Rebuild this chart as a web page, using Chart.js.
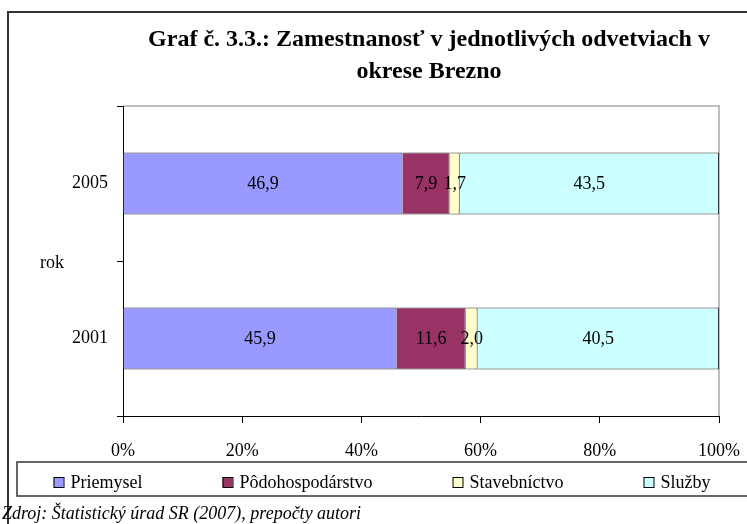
<!DOCTYPE html>
<html>
<head>
<meta charset="utf-8">
<script src="https://cdn.jsdelivr.net/npm/chart.js@4/dist/chart.umd.min.js"></script>
<style>
  html, body { margin: 0; padding: 0; background: #fff; }
  canvas { display: block; }
</style>
</head>
<body>
<canvas id="chart" width="747" height="524"></canvas>
<script>
const years = ['2005', '2001'];
const seriesNames = ['Priemysel', 'Pôdohospodárstvo', 'Stavebníctvo', 'Služby'];
const priemysel = [46.9, 45.9];
const podohospodarstvo = [7.9, 11.6];
const stavebnictvo = [1.7, 2.0];
const sluzby = [43.5, 40.5];
const titleLines = ['Graf č. 3.3.: Zamestnanosť v jednotlivých odvetviach v', 'okrese Brezno'];
const axisName = 'rok';
const sourceNote = 'Zdroj: Štatistický úrad SR (2007), prepočty autori';

const serif = '"Liberation Serif", "Times New Roman", serif';
const colors = ['#9999ff', '#993366', '#ffffcc', '#ccffff'];

const decor = {
    id: 'decor',
    beforeDraw(chart) {
        const ctx = chart.ctx;
        const a = chart.chartArea;
        ctx.save();
        ctx.fillStyle = '#fff';
        ctx.fillRect(0, 0, chart.width, chart.height);
        // outer frame (right and bottom sides run off the picture)
        ctx.strokeStyle = '#333';
        ctx.lineWidth = 2;
        ctx.strokeRect(8, 12, chart.width + 20, chart.height + 20);
        // plot area top / right edge
        ctx.strokeStyle = '#aaa';
        ctx.lineWidth = 1.5;
        ctx.beginPath();
        ctx.moveTo(a.left, a.top);
        ctx.lineTo(a.right, a.top);
        ctx.lineTo(a.right, a.bottom);
        ctx.stroke();
        ctx.restore();
    },
    afterDatasetsDraw(chart) {
        const ctx = chart.ctx;
        ctx.save();
        ctx.font = '18px ' + serif;
        ctx.fillStyle = '#000';
        ctx.textAlign = 'center';
        ctx.textBaseline = 'middle';
        chart.data.datasets.forEach((ds, i) => {
            chart.getDatasetMeta(i).data.forEach((bar, j) => {
                const p = bar.getProps(['x', 'y', 'base'], true);
                ctx.fillText(ds.data[j].toFixed(1).replace('.', ','), (p.x + p.base) / 2, p.y + 1);
            });
        });
        ctx.restore();
    },
    afterDraw(chart) {
        const ctx = chart.ctx;
        const a = chart.chartArea;
        ctx.save();
        ctx.fillStyle = '#000';
        ctx.textBaseline = 'middle';

        // title
        ctx.textAlign = 'center';
        ctx.font = 'bold 24px ' + serif;
        ctx.fillText(titleLines[0], 429, 40);
        ctx.fillText(titleLines[1], 429, 72);

        // axis name
        ctx.font = '18px ' + serif;
        ctx.textAlign = 'left';
        ctx.fillText(axisName, 40, (a.top + a.bottom) / 2 + 2);

        // legend box
        ctx.strokeStyle = '#333';
        ctx.lineWidth = 1.5;
        ctx.strokeRect(17, 462, chart.width + 20, 34);
        const gap = 80;
        const widths = chart.data.datasets.map(ds => 17 + ctx.measureText(ds.label).width);
        const total = widths.reduce((s, w) => s + w, 0) + gap * (widths.length - 1);
        let x = 382 - total / 2;
        chart.data.datasets.forEach((ds, i) => {
            ctx.fillStyle = ds.backgroundColor;
            ctx.fillRect(x, 477, 10, 10);
            ctx.strokeStyle = '#000';
            ctx.lineWidth = 1;
            ctx.strokeRect(x + 0.5, 477.5, 10, 10);
            ctx.fillStyle = '#000';
            ctx.fillText(ds.label, x + 17, 483);
            x += widths[i] + gap;
        });

        // source note
        ctx.font = 'italic 18px ' + serif;
        ctx.fillText(sourceNote, 2, 514);
        ctx.restore();
    }
};

const seriesValues = [priemysel, podohospodarstvo, stavebnictvo, sluzby];

new Chart(document.getElementById('chart'), {
    type: 'bar',
    data: {
        labels: years,
        datasets: seriesNames.map((name, i) => ({
            label: name,
            data: seriesValues[i],
            backgroundColor: colors[i],
            borderColor: '#333',
            borderWidth: 1,
            barPercentage: 0.4,
            categoryPercentage: 1.0,
        })),
    },
    options: {
        indexAxis: 'y',
        responsive: false,
        animation: false,
        devicePixelRatio: 1,
        layout: { padding: { top: 106, right: 28, bottom: 62, left: 0 } },
        plugins: {
            legend: { display: false },
            title: { display: false },
            tooltip: { enabled: false },
        },
        scales: {
            x: {
                stacked: true,
                min: 0,
                max: 100,
                ticks: {
                    stepSize: 20,
                    padding: 17,
                    color: '#000',
                    font: { family: serif, size: 18 },
                    callback: function(value) {
                        return value + '%';
                    }
                },
                grid: { drawOnChartArea: false, tickLength: 7, color: '#000' },
                border: { color: '#000', width: 1 },
                afterFit: s => {
                    s.height = 46;
                    s.paddingLeft = 0;
                    s.paddingRight = 0;
                },
            },
            y: {
                stacked: true,
                ticks: {
                    padding: 9,
                    color: '#000',
                    font: { family: serif, size: 18 },
                },
                grid: { offset: true, drawOnChartArea: false, tickLength: 6, color: '#000' },
                border: { color: '#000', width: 1 },
                afterFit: s => { s.width = 123; },
            },
        },
    },
    plugins: [decor],
});
</script>
</body>
</html>
